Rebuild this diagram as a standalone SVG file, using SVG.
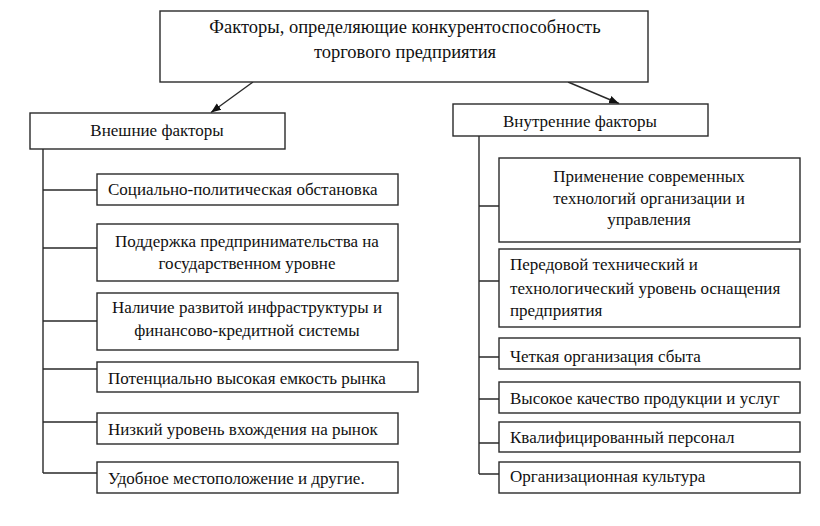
<svg xmlns="http://www.w3.org/2000/svg" width="820" height="526" viewBox="0 0 820 526" font-family="'Liberation Serif','DejaVu Serif',serif">
<style>
.box{fill:#fff;stroke:#2a2a2a;stroke-width:1.4}
.ln{fill:none;stroke:#2a2a2a;stroke-width:1.4}
text{font-family:"Liberation Serif","DejaVu Serif",serif;font-size:17px;fill:#111}
.t{font-size:18.5px}
.c{text-anchor:middle}
</style>
<defs>
<marker id="ah" viewBox="0 0 10 10" refX="10" refY="5" markerWidth="10" markerHeight="10" markerUnits="userSpaceOnUse" orient="auto">
<path d="M0,1 L10,5 L0,9 Z" fill="#111"/>
</marker>
</defs>
<rect width="820" height="526" fill="#fff"/>
<g id="connectors">
<line class="ln" x1="253" y1="82" x2="211" y2="112.5" marker-end="url(#ah)"/>
<line class="ln" x1="568" y1="82" x2="619" y2="103.5" marker-end="url(#ah)"/>
<path class="ln" d="M43,149 V473 M43,190 H97 M43,248 H97 M43,321 H97 M43,369 H97 M43,422 H97 M43,473 H97"/>
<path class="ln" d="M479,136 V474 M479,206 H499 M479,281 H499 M479,357 H499 M479,399 H499 M479,443 H499 M479,474 H499"/>
</g>
<g id="root">
<rect class="box" x="160" y="11" width="488" height="71"/>
<text class="c t" x="405" y="33">Факторы, определяющие конкурентоспособность</text>
<text class="c t" x="405" y="58">торгового предприятия</text>
</g>
<g id="external">
<rect class="box" x="30" y="113" width="255" height="36"/>
<text class="c" x="157" y="136">Внешние факторы</text>
</g>
<g id="ext1">
<rect class="box" x="97" y="174" width="301" height="31"/>
<text x="108" y="195">Социально-политическая обстановка</text>
</g>
<g id="ext2">
<rect class="box" x="97" y="224" width="301" height="57"/>
<text class="c" x="247" y="247">Поддержка предпринимательства на</text>
<text class="c" x="247" y="269">государственном уровне</text>
</g>
<g id="ext3">
<rect class="box" x="97" y="293" width="301" height="57"/>
<text class="c" x="247" y="313">Наличие развитой инфраструктуры и</text>
<text class="c" x="247" y="336">финансово-кредитной системы</text>
</g>
<g id="ext4">
<rect class="box" x="97" y="362" width="321" height="30"/>
<text x="108" y="384">Потенциально высокая емкость рынка</text>
</g>
<g id="ext5">
<rect class="box" x="97" y="413" width="301" height="31"/>
<text x="108" y="435">Низкий уровень вхождения на рынок</text>
</g>
<g id="ext6">
<rect class="box" x="97" y="462" width="301" height="31"/>
<text x="108" y="484">Удобное местоположение и другие.</text>
</g>
<g id="internal">
<rect class="box" x="453" y="104" width="255" height="32"/>
<text class="c" x="580" y="127">Внутренние факторы</text>
</g>
<g id="int1">
<rect class="box" x="499" y="158" width="301" height="84"/>
<text class="c" x="649" y="182">Применение современных</text>
<text class="c" x="649" y="204">технологий организации и</text>
<text class="c" x="649" y="225">управления</text>
</g>
<g id="int2">
<rect class="box" x="499" y="249" width="301" height="78"/>
<text x="510" y="270">Передовой технический и</text>
<text x="510" y="294">технологический уровень оснащения</text>
<text x="510" y="316">предприятия</text>
</g>
<g id="int3">
<rect class="box" x="499" y="338" width="301" height="31"/>
<text x="510" y="362">Четкая организация сбыта</text>
</g>
<g id="int4">
<rect class="box" x="499" y="382" width="301" height="31"/>
<text x="510" y="404">Высокое качество продукции и услуг</text>
</g>
<g id="int5">
<rect class="box" x="499" y="422" width="301" height="30"/>
<text x="510" y="443">Квалифицированный персонал</text>
</g>
<g id="int6">
<rect class="box" x="499" y="462" width="301" height="31"/>
<text x="510" y="482">Организационная культура</text>
</g>
</svg>
